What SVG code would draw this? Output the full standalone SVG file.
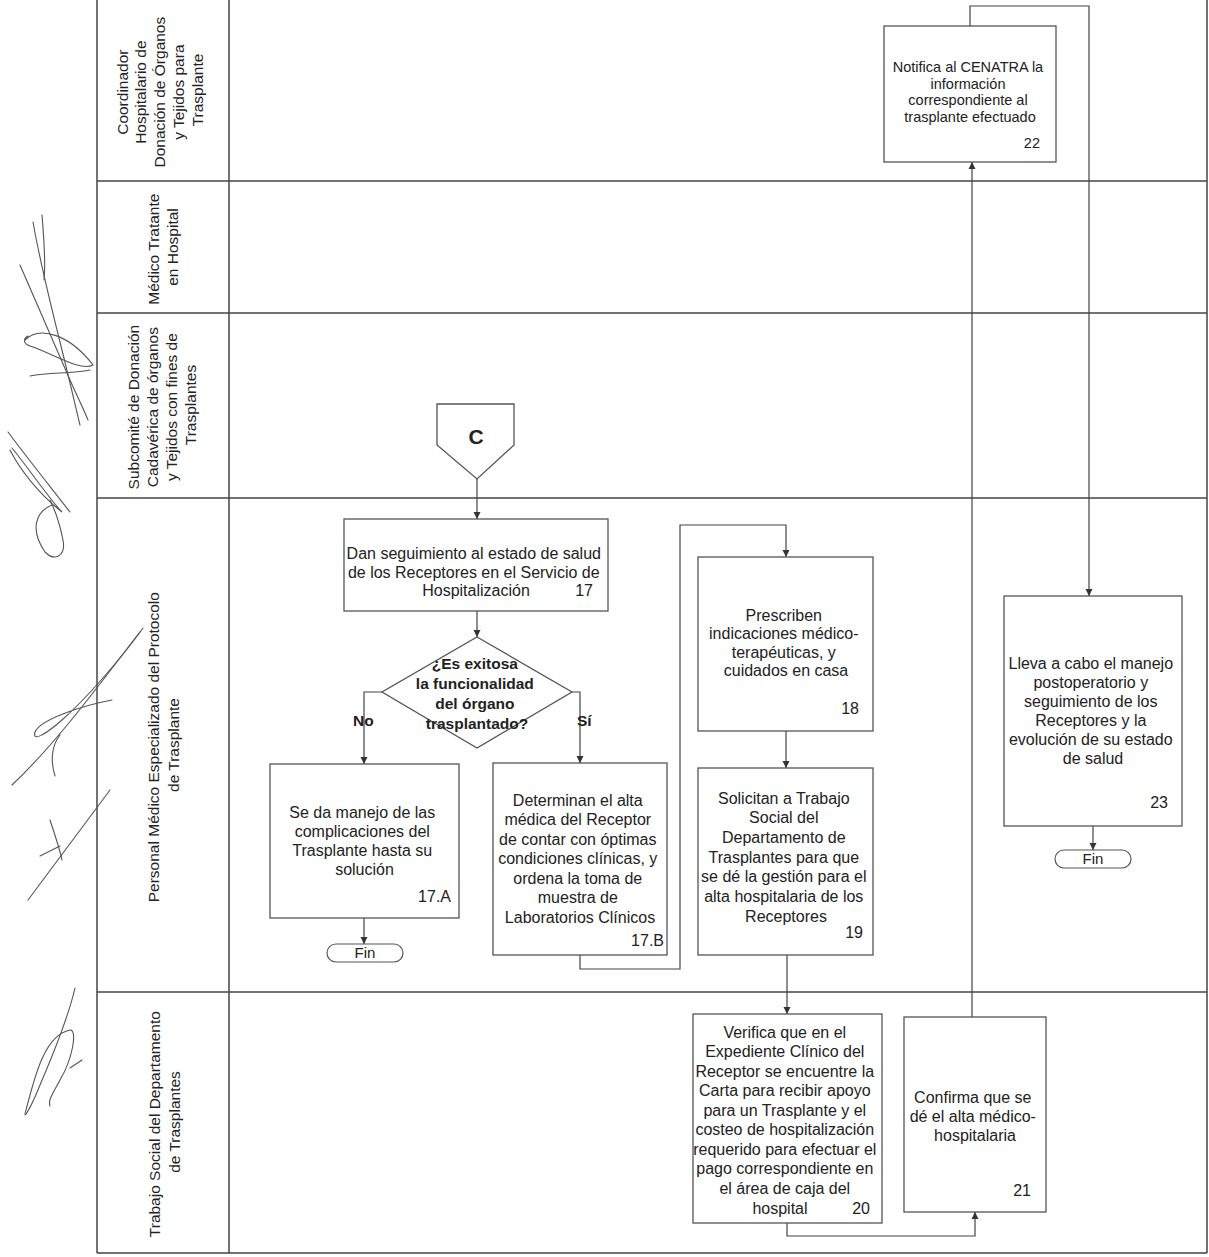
<svg xmlns="http://www.w3.org/2000/svg" width="1209" height="1257" viewBox="0 0 1209 1257">
  <defs>
    <marker id="arrow" markerUnits="userSpaceOnUse" markerWidth="8" markerHeight="8" refX="7" refY="4" orient="auto">
      <path d="M0,0.5 L7,4 L0,7.5 z" fill="#333"/>
    </marker>
    <style>
      .lane { fill: none; stroke: #444; stroke-width: 1.5; }
      .box { fill: #fff; stroke: #555; stroke-width: 1.3; }
      .term { fill: #fff; stroke: #555; stroke-width: 1.2; }
      .conn { fill: none; stroke: #444; stroke-width: 1.2; }
      .conn-arrow { fill: none; stroke: #444; stroke-width: 1.2; marker-end: url(#arrow); }
      .sig { fill: none; stroke: #555; stroke-width: 1.1; stroke-linecap: round; }
      text { font-family: "Liberation Sans", Arial, sans-serif; fill: #222; }
      .t { font-size: 16px; text-anchor: middle; }
      .ts { font-size: 14.5px; text-anchor: middle; }
      .num { font-size: 16px; text-anchor: end; }
      .nums { font-size: 14.5px; text-anchor: end; }
      .dec { font-size: 15.5px; font-weight: bold; text-anchor: middle; }
      .lbl { font-size: 15.5px; font-weight: bold; }
      .big { font-size: 21px; font-weight: bold; text-anchor: middle; }
      .lanelbl { font-size: 15.5px; text-anchor: middle; }
      .fin { font-size: 15px; text-anchor: middle; }
    </style>
  </defs>

  <rect width="1209" height="1257" fill="#fff"/>

  <!-- swimlane frame -->
  <g id="lanes">
    <line class="lane" x1="97" y1="0" x2="97" y2="1253"/>
    <line class="lane" x1="229" y1="0" x2="229" y2="1253"/>
    <line class="lane" x1="1207" y1="0" x2="1207" y2="1253"/>
    <line class="lane" x1="97" y1="181" x2="1207" y2="181"/>
    <line class="lane" x1="97" y1="313" x2="1207" y2="313"/>
    <line class="lane" x1="97" y1="498" x2="1207" y2="498"/>
    <line class="lane" x1="97" y1="992" x2="1207" y2="992"/>
    <line class="lane" x1="97" y1="1253" x2="1207" y2="1253"/>
  </g>

  <!-- lane titles, written bottom to top -->
  <g id="lane-titles">
    <text class="lanelbl" transform="translate(0,90) rotate(-90)">
      <tspan x="0" y="127.5">Coordinador</tspan>
      <tspan x="0" y="146">Hospitalario de</tspan>
      <tspan x="0" y="164.5">Donación de Órganos</tspan>
      <tspan x="0" y="183.5">y Tejidos para</tspan>
      <tspan x="0" y="202.5">Trasplante</tspan>
    </text>
    <text class="lanelbl" transform="translate(0,247) rotate(-90)">
      <tspan x="0" y="158.5">Médico Tratante</tspan>
      <tspan x="0" y="178">en Hospital</tspan>
    </text>
    <text class="lanelbl" transform="translate(0,405) rotate(-90)">
      <tspan x="0" y="138.5">Subcomité de Donación</tspan>
      <tspan x="0" y="157.5">Cadavérica de órganos</tspan>
      <tspan x="0" y="176.5">y Tejidos con fines de</tspan>
      <tspan x="0" y="195.5">Trasplantes</tspan>
    </text>
    <text class="lanelbl" transform="translate(0,745) rotate(-90)">
      <tspan x="0" y="159">Personal Médico Especializado del Protocolo</tspan>
      <tspan x="0" y="179">de Trasplante</tspan>
    </text>
    <text class="lanelbl" transform="translate(0,1122) rotate(-90)">
      <tspan x="0" y="160">Trabajo Social del Departamento</tspan>
      <tspan x="0" y="180">de Trasplantes</tspan>
    </text>
  </g>

  <!-- handwritten signatures in the margin -->
  <g id="signatures">
    <path class="sig" d="M33,222 C40,262 50,302 60,342 C68,374 74,400 80,425"/>
    <path class="sig" d="M20,265 C35,300 55,345 70,380 C78,398 84,410 88,420"/>
    <path class="sig" d="M25,340 C40,325 70,335 93,365 C80,372 50,352 30,346 C22,343 24,338 28,336"/>
    <path class="sig" d="M30,376 C50,372 70,374 90,370"/>
    <path class="sig" d="M42,215 C44,240 46,262 44,280"/>
    <path class="sig" d="M8,432 C25,455 45,480 70,512"/>
    <path class="sig" d="M10,450 C20,470 40,495 62,512 C50,500 30,470 12,448"/>
    <path class="sig" d="M52,505 C35,512 30,530 45,552 C55,562 66,556 63,540 C60,525 56,512 50,500"/>
    <path class="sig" d="M143,628 C120,660 85,700 62,720 C45,735 32,742 35,732 C40,720 80,706 112,700"/>
    <path class="sig" d="M140,632 C110,670 60,740 12,785"/>
    <path class="sig" d="M55,776 C50,760 52,745 60,735"/>
    <path class="sig" d="M28,900 C50,870 80,830 110,790"/>
    <path class="sig" d="M50,820 C55,835 60,850 62,860"/>
    <path class="sig" d="M40,856 L60,846"/>
    <path class="sig" d="M75,988 C70,1010 55,1050 40,1085 C30,1110 22,1122 26,1110 C35,1075 45,1035 70,1030 C78,1030 72,1060 60,1080 C52,1095 48,1100 50,1106"/>
    <path class="sig" d="M70,1068 L82,1060"/>
  </g>

  <!-- connectors -->
  <g id="connectors">
    <path class="conn-arrow" d="M477,479 V519"/>
    <path class="conn-arrow" d="M477,611 V637"/>
    <path class="conn-arrow" d="M382,692 H364 V764"/>
    <path class="conn-arrow" d="M572,692 H580 V763"/>
    <path class="conn-arrow" d="M364,918 V944"/>
    <path class="conn-arrow" d="M580,955 V969 H680 V525 H786 V557"/>
    <path class="conn-arrow" d="M786,731 V768"/>
    <path class="conn-arrow" d="M787,955 V1014"/>
    <path class="conn-arrow" d="M787,1223 V1236 H975 V1212"/>
    <path class="conn-arrow" d="M972,1017 V162"/>
    <path class="conn-arrow" d="M970,26 V6 H1089 V596"/>
    <path class="conn-arrow" d="M1093,826 V850"/>
  </g>

  <!-- off-page connector C -->
  <g id="node-C">
    <polygon class="box" points="437,404 514,404 514,445 477,479 437,445"/>
    <text class="big" x="476" y="444">C</text>
  </g>

  <g id="node-17">
    <rect class="box" x="344" y="519" width="264" height="92"/>
    <text class="t">
      <tspan x="476" y="559">Dan seguimiento al estado de salud</tspan>
      <tspan x="476" y="578">de los Receptores en el Servicio de</tspan>
      <tspan x="476" y="596">Hospitalización</tspan>
    </text>
    <text class="num" x="593" y="596">17</text>
  </g>

  <g id="decision">
    <polygon class="box" points="477,637 572,692 477,748 382,692"/>
    <text class="dec">
      <tspan x="477" y="668.5">¿Es exitosa</tspan>
      <tspan x="477" y="688.5">la funcionalidad</tspan>
      <tspan x="477" y="708.5">del órgano</tspan>
      <tspan x="477" y="728.5">trasplantado?</tspan>
    </text>
    <text class="lbl" x="353" y="726">No</text>
    <text class="lbl" x="577" y="726">Sí</text>
  </g>

  <g id="node-17A">
    <rect class="box" x="270" y="764" width="189" height="154"/>
    <text class="t">
      <tspan x="364.5" y="818">Se da manejo de las</tspan>
      <tspan x="364.5" y="837">complicaciones del</tspan>
      <tspan x="364.5" y="856">Trasplante hasta su</tspan>
      <tspan x="364.5" y="875">solución</tspan>
    </text>
    <text class="num" x="451" y="902">17.A</text>
  </g>

  <g id="fin-17A">
    <rect class="term" x="327" y="944" width="76" height="18" rx="9"/>
    <text class="fin" x="365" y="958">Fin</text>
  </g>

  <g id="node-17B">
    <rect class="box" x="493" y="763" width="174" height="192"/>
    <text class="t">
      <tspan x="580" y="805.5">Determinan el alta</tspan>
      <tspan x="580" y="825">médica del Receptor</tspan>
      <tspan x="580" y="844.5">de contar con óptimas</tspan>
      <tspan x="580" y="864">condiciones clínicas, y</tspan>
      <tspan x="580" y="883.5">ordena la toma de</tspan>
      <tspan x="580" y="903">muestra de</tspan>
      <tspan x="580" y="922.5">Laboratorios Clínicos</tspan>
    </text>
    <text class="num" x="664" y="946">17.B</text>
  </g>

  <g id="node-18">
    <rect class="box" x="698" y="557" width="175" height="174"/>
    <text class="t">
      <tspan x="786" y="620.5">Prescriben</tspan>
      <tspan x="786" y="639">indicaciones médico-</tspan>
      <tspan x="786" y="657.5">terapéuticas, y</tspan>
      <tspan x="786" y="676">cuidados en casa</tspan>
    </text>
    <text class="num" x="859" y="713.5">18</text>
  </g>

  <g id="node-19">
    <rect class="box" x="698" y="768" width="175" height="187"/>
    <text class="t">
      <tspan x="786" y="803.5">Solicitan a Trabajo</tspan>
      <tspan x="786" y="823.2">Social del</tspan>
      <tspan x="786" y="842.8">Departamento de</tspan>
      <tspan x="786" y="862.5">Trasplantes para que</tspan>
      <tspan x="786" y="882.2">se dé la gestión para el</tspan>
      <tspan x="786" y="901.8">alta  hospitalaria de los</tspan>
      <tspan x="786" y="921.5">Receptores</tspan>
    </text>
    <text class="num" x="863" y="937.5">19</text>
  </g>

  <g id="node-20">
    <rect class="box" x="693" y="1014" width="189" height="209"/>
    <text class="t">
      <tspan x="787" y="1037.5">Verifica que en el</tspan>
      <tspan x="787" y="1057.1">Expediente Clínico del</tspan>
      <tspan x="787" y="1076.6">Receptor se encuentre la</tspan>
      <tspan x="787" y="1096.2">Carta para recibir apoyo</tspan>
      <tspan x="787" y="1115.7">para un Trasplante y el</tspan>
      <tspan x="787" y="1135.3">costeo de hospitalización</tspan>
      <tspan x="787" y="1154.8">requerido para efectuar el</tspan>
      <tspan x="787" y="1174.4">pago correspondiente en</tspan>
      <tspan x="787" y="1194">el área de caja del</tspan>
      <tspan x="780" y="1213.5">hospital</tspan>
    </text>
    <text class="num" x="870" y="1213.5">20</text>
  </g>

  <g id="node-21">
    <rect class="box" x="904" y="1017" width="142" height="195"/>
    <text class="t">
      <tspan x="975" y="1102.5">Confirma que se</tspan>
      <tspan x="975" y="1121.5">dé el alta médico-</tspan>
      <tspan x="975" y="1140.5">hospitalaria</tspan>
    </text>
    <text class="num" x="1031" y="1195.5">21</text>
  </g>

  <g id="node-22">
    <rect class="box" x="884" y="26" width="172" height="136"/>
    <text class="ts">
      <tspan x="970" y="72">Notifica al CENATRA la</tspan>
      <tspan x="970" y="88.5">información</tspan>
      <tspan x="970" y="105">correspondiente al</tspan>
      <tspan x="970" y="121.5">trasplante efectuado</tspan>
    </text>
    <text class="nums" x="1040" y="148">22</text>
  </g>

  <g id="node-23">
    <rect class="box" x="1004" y="596" width="178" height="230"/>
    <text class="t">
      <tspan x="1093" y="668.5">Lleva a cabo el manejo</tspan>
      <tspan x="1093" y="687.5">postoperatorio y</tspan>
      <tspan x="1093" y="706.5">seguimiento de los</tspan>
      <tspan x="1093" y="725.5">Receptores y la</tspan>
      <tspan x="1093" y="744.5">evolución de su estado</tspan>
      <tspan x="1093" y="763.5">de salud</tspan>
    </text>
    <text class="num" x="1168" y="807.5">23</text>
  </g>

  <g id="fin-23">
    <rect class="term" x="1055" y="850" width="76" height="18" rx="9"/>
    <text class="fin" x="1093" y="864">Fin</text>
  </g>
</svg>
